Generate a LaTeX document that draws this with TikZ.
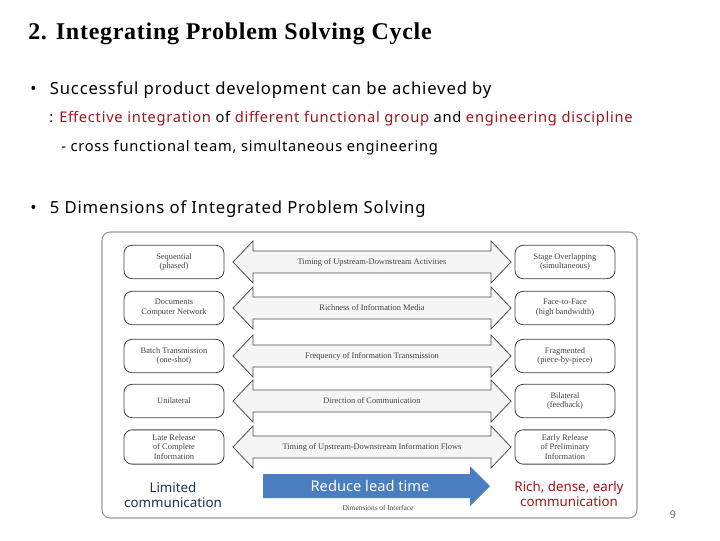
\documentclass[tikz,border=0pt]{standalone}
\usepackage{fontspec}
\setmainfont{Liberation Serif}
\newfontfamily\ks{Noto Sans}
\newfontfamily\ksw[LetterSpace=5]{Noto Sans}
\newfontfamily\tw[LetterSpace=3]{Liberation Serif}
\definecolor{dred}{HTML}{A0141E}
\definecolor{navy}{HTML}{1F3050}
\definecolor{blu}{HTML}{4A7EC0}
\begin{document}
\begin{tikzpicture}[x=0.75pt,y=-0.75pt,
  sbox/.style={draw=black!75,line width=0.6pt,rounded corners=6pt,minimum width=75pt,minimum height=25pt,align=center,font=\fontsize{6.3}{7.3}\selectfont,text=black!75},
  dimarrow/.style={draw=black!70,fill=black!4,line width=0.6pt,line join=miter},
  atext/.style={font=\fontsize{6.3}{7.3}\selectfont,text=black!75}]
\useasboundingbox (0,0) rectangle (720,540);
\node[anchor=west,font=\tw\bfseries\fontsize{18}{20}\selectfont,inner sep=0pt] (title) at (28,34) {2. Integrating Problem Solving Cycle};
\node[anchor=west,font=\ksw\fontsize{12.5}{14}\selectfont,inner sep=0pt] (b1) at (30,90) {•\hspace{10pt}Successful product development can be achieved by};
\node[anchor=west,font=\ksw\fontsize{11}{12}\selectfont,inner sep=0pt] (b1a) at (49,119) {: \textcolor{dred}{Effective integration} of \textcolor{dred}{different functional group} and \textcolor{dred}{engineering discipline}};
\node[anchor=west,font=\ksw\fontsize{11}{12}\selectfont,inner sep=0pt] (b1b) at (61,148) {- cross functional team, simultaneous engineering};
\node[anchor=west,font=\ksw\fontsize{12.5}{14}\selectfont,inner sep=0pt] (b2) at (30,209) {•\hspace{10pt}5 Dimensions of Integrated Problem Solving};
\draw[black!40,line width=0.8pt,rounded corners=6pt] (102,232) rectangle (637,518);
\foreach \y/\l/\m/\r [count=\i] in {262/Sequential\\(phased)/Timing of Upstream-Downstream Activities/Stage Overlapping\\(simultaneous),
 308/Documents\\Computer Network/Richness of Information Media/Face-to-Face\\(high bandwidth),
 356/Batch Transmission\\(one-shot)/Frequency of Information Transmission/Fragmented\\(piece-by-piece),
 401/Unilateral/Direction of Communication/Bilateral\\(feedback),
 447/Late Release\\of Complete\\Information/Timing of Upstream-Downstream Information Flows/Early Release\\of Preliminary\\Information}{
  \node[sbox] (L\i) at (174,\y) {\l};
  \node[sbox] (R\i) at (565,\y) {\r};
  \draw[dimarrow] (233,\y) -- (253,\y-21) -- (253,\y-11) -- (491,\y-11) -- (491,\y-21) -- (511,\y)
     -- (491,\y+21) -- (491,\y+11) -- (253,\y+11) -- (253,\y+21) -- cycle;
  \node[atext] (T\i) at (372,\y) {\m};
}
\fill[blu] (263,474) -- (470,474) -- (470,466) -- (490,486) -- (470,506) -- (470,498) -- (263,498) -- cycle;
\node[text=white,font=\ks\fontsize{11}{13}\selectfont] (bt) at (370,486) {Reduce lead time};
\node[atext,font=\fontsize{5.5}{6}\selectfont] (dim) at (378,508) {Dimensions of Interface};
\node[align=center,text=navy,font=\ks\fontsize{10}{11}\selectfont] (lim) at (173,495) {Limited\\communication};
\node[align=center,text=dred,font=\ks\fontsize{10}{11}\selectfont] (rich) at (569,494) {Rich, dense, early\\communication};
\node[text=black!60,font=\ks\fontsize{8}{9}\selectfont] (pg) at (673,515) {9};
\end{tikzpicture}
\end{document}
